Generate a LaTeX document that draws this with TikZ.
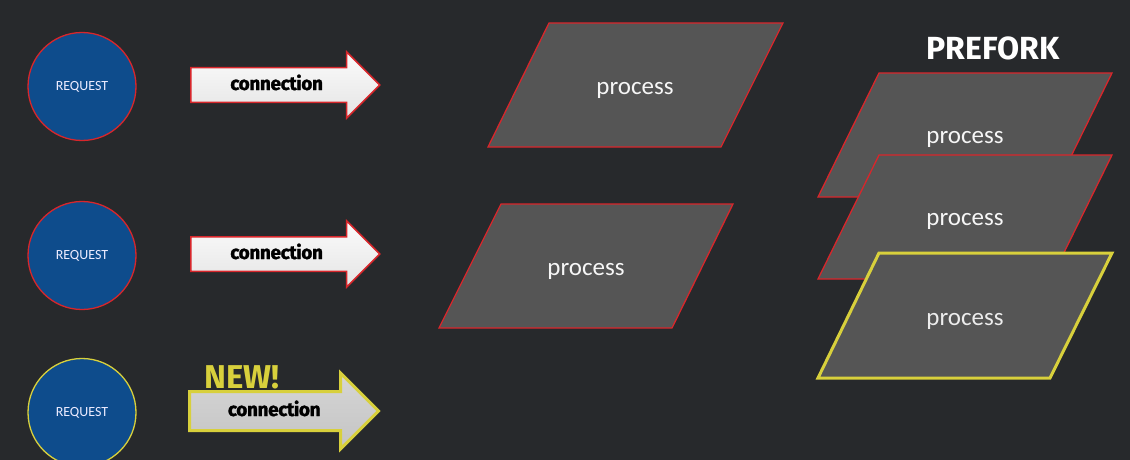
\documentclass[tikz,border=0pt]{standalone}
\usepackage{fontspec}
\setmainfont{Carlito}
\newfontfamily\heavyfont{Fira Sans}
\newfontfamily\connfont[FakeBold=1.6,LetterSpace=-2]{Fira Sans}
\usetikzlibrary{shapes.arrows}
\definecolor{bgc}{HTML}{27292C}
\definecolor{reqblue}{HTML}{0E4C8C}
\definecolor{redline}{HTML}{D8262B}
\definecolor{yel}{HTML}{D8D03C}
\definecolor{procfill}{HTML}{555555}
\definecolor{arrfill}{HTML}{E4E4E4}
\definecolor{arrfillb}{HTML}{C4C4C4}
\tikzset{
  req/.style={circle, fill=reqblue, draw=redline, line width=1.3pt, minimum size=108pt, inner sep=0pt,
    text=white!92!blue, font=\fontsize{14}{14}\selectfont},
  conn/.style={single arrow, single arrow head extend=16pt, single arrow head indent=0pt,
    minimum height=189pt, inner xsep=0pt, inner ysep=0pt, text height=21.5pt, text depth=11.5pt,
    draw=redline, line width=1.5pt, anchor=tail,
    shade, top color=white!97!gray, bottom color=arrfill,
    font=\connfont\bfseries\fontsize{19}{19}\selectfont, text=black},
  proc/.style={fill=procfill, draw=redline, line width=1.3pt, line join=miter},
  proctext/.style={text=white!93!gray, font=\fontsize{25}{25}\selectfont},
  yelproc/.style={fill=procfill, draw=yel, line width=3pt, line join=miter},
}
\begin{document}
\begin{tikzpicture}[x=1pt,y=-1pt]
\fill[bgc] (0,0) rectangle (1130,460);
\useasboundingbox (0,0) rectangle (1130,460);

% requests
\node[req] (r1) at (82,86.5) {REQUEST};
\node[req] (r2) at (82,255.5) {REQUEST};
\node[req, draw=yel] (r3) at (82,412.5) {REQUEST};

% connections
\node[conn] (c1) at (190,85) {connection};
\node[conn] (c2) at (190,254) {connection};
\node[conn, draw=yel, line width=3pt, text height=23pt, text depth=13pt, single arrow head extend=18.5pt,
  top color=arrfillb!70!white, bottom color=arrfillb] (c3) at (188,411) {connection};
\node[text=yel, font=\heavyfont\bfseries\fontsize{33}{33}\selectfont] (new) at (242,377) {NEW!};

% middle processes
\draw[proc] (549,23) -- (783,23) -- (721,147) -- (488,147) -- cycle;
\node[proctext] (p1) at (635,90) {process};
\draw[proc] (501,204) -- (733,204) -- (672,328) -- (439,328) -- cycle;
\node[proctext] (p2) at (586,271) {process};

% prefork stack
\node[text=white, font=\heavyfont\bfseries\fontsize{32}{32}\selectfont] (pf) at (993,48) {PREFORK};
\draw[proc] (879,73) -- (1112,73) -- (1051,197) -- (818,197) -- cycle;
\node[proctext] (s1) at (965,139) {process};
\draw[proc] (879,155) -- (1112,155) -- (1051,279) -- (818,279) -- cycle;
\node[proctext] (s2) at (965,221) {process};
\draw[yelproc] (879,253) -- (1112,253) -- (1050,378) -- (818,378) -- cycle;
\node[proctext, text=white!85!gray] (s3) at (965,321) {process};
\end{tikzpicture}
\end{document}
